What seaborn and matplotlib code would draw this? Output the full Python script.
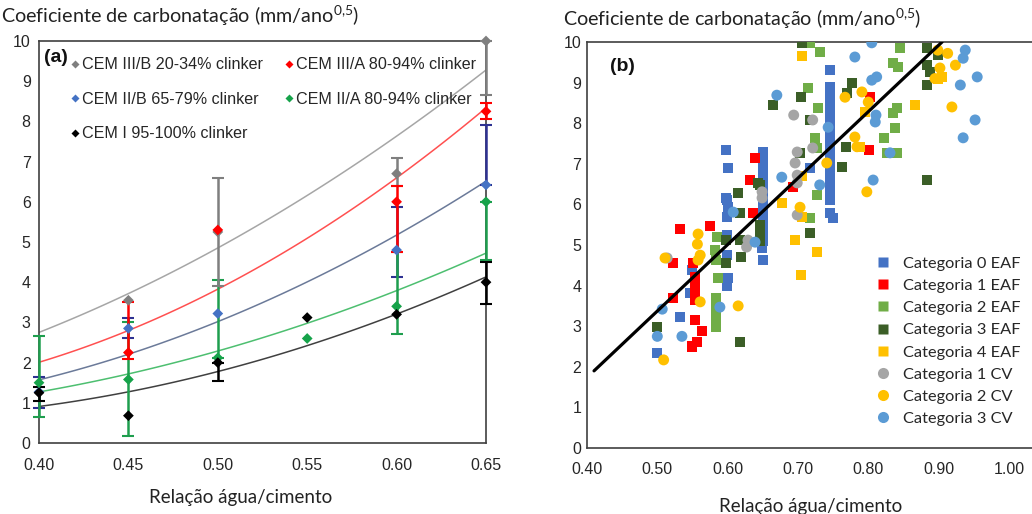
import numpy as np
import pandas as pd
import matplotlib
matplotlib.use("Agg")
import matplotlib.pyplot as plt
from matplotlib.lines import Line2D
from matplotlib.ticker import MultipleLocator
import seaborn as sns

# ---------------- Panel (a) data ----------------
xa_grid = [0.40, 0.45, 0.50, 0.55, 0.60, 0.65]

# CEM III/B (grey)
g_x = [0.45, 0.50, 0.60, 0.65]
g_y = [3.55, 5.25, 6.70, 10.0]
g_lo = [np.nan, 3.90, 6.40, 8.65]
g_hi = [np.nan, 6.60, 7.10, 10.0]
g_trend = [2.75, 3.72, 4.85, 6.16, 7.63, 9.28]

# CEM III/A (red)
r_x = [0.45, 0.50, 0.60, 0.65]
r_y = [2.25, 5.30, 6.00, 8.25]
r_lo = [2.10, np.nan, 4.75, 8.05]
r_hi = [3.50, np.nan, 6.40, 8.45]
r_trend = [2.00, 2.80, 3.85, 5.10, 6.55, 8.36]

# CEM II/B (blue)
b_x = [0.40, 0.45, 0.50, 0.60, 0.65]
b_y = [1.27, 2.85, 3.22, 4.80, 6.42]
b_lo = [0.88, 2.60, np.nan, 4.13, 6.42]
b_hi = [1.65, 3.10, np.nan, 5.87, 7.90]
b_trend = [1.57, 2.22, 3.00, 4.00, 5.20, 6.50]

# CEM II/A (green)
gr_x = [0.40, 0.45, 0.50, 0.55, 0.60, 0.65]
gr_y = [1.50, 1.58, 2.12, 2.60, 3.40, 6.00]
gr_lo = [0.65, 0.18, 2.12, np.nan, 2.72, 4.55]
gr_hi = [2.65, 3.00, 4.05, np.nan, 4.75, 6.00]
gr_trend = [1.27, 1.72, 2.29, 2.97, 3.80, 4.72]

# CEM I (black)
k_x = [0.40, 0.45, 0.50, 0.55, 0.60, 0.65]
k_y = [1.25, 0.68, 2.00, 3.12, 3.20, 4.00]
k_lo = [1.05, np.nan, 1.53, np.nan, np.nan, 3.45]
k_hi = [1.40, np.nan, 2.00, np.nan, np.nan, 4.50]
k_trend = [0.90, 1.28, 1.80, 2.40, 3.20, 4.14]

labels_a = ["CEM III/B 20-34% clinker", "CEM II/B 65-79% clinker",
            "CEM I 95-100% clinker", "CEM III/A 80-94% clinker",
            "CEM II/A 80-94% clinker"]

# ---------------- Panel (b) data ----------------
c0_x = [0.50, 0.532, 0.549, 0.547, 0.598, 0.60, 0.598, 0.599, 0.60, 0.599, 0.599, 0.599, 0.60, 0.599,
        0.65, 0.65, 0.65, 0.65, 0.65, 0.65, 0.65, 0.65, 0.65, 0.65, 0.65, 0.65, 0.649, 0.65, 0.717,
        0.746, 0.746, 0.746, 0.746, 0.746, 0.746, 0.746, 0.746, 0.746, 0.746, 0.746, 0.746, 0.746,
        0.746, 0.746, 0.746, 0.746, 0.75]
c0_y = [2.33, 3.23, 4.38, 3.82, 7.34, 6.90, 6.16, 6.10, 5.93, 5.70, 5.25, 4.75, 4.19, 4.00,
        7.30, 7.10, 6.90, 6.70, 6.50, 6.30, 6.10, 5.90, 5.70, 5.50, 5.30, 5.10, 4.93, 4.63, 6.90,
        9.30, 8.90, 8.70, 8.50, 8.30, 8.10, 7.90, 7.70, 7.50, 7.30, 7.10, 6.90, 6.70,
        6.50, 6.30, 6.10, 5.78, 5.67]

c1_x = [0.532, 0.575, 0.522, 0.551, 0.553, 0.553, 0.553, 0.553, 0.522, 0.553, 0.563, 0.556, 0.55,
        0.639, 0.632, 0.693, 0.636, 0.802, 0.801]
c1_y = [5.39, 5.47, 4.55, 4.55, 4.20, 4.00, 3.80, 3.65, 3.70, 3.15, 2.88, 2.60, 2.50,
        7.15, 6.60, 6.43, 5.78, 8.64, 7.34]

c2_x = [0.717, 0.731, 0.715, 0.729, 0.724, 0.727, 0.727, 0.845, 0.835, 0.842, 0.841, 0.835, 0.838,
        0.822, 0.826, 0.841, 0.585, 0.582, 0.584, 0.586, 0.584, 0.584, 0.584, 0.584, 0.584, 0.717]
c2_y = [9.98, 9.76, 8.87, 8.37, 7.64, 7.40, 6.23, 9.85, 9.48, 9.38, 8.37, 8.25, 7.88,
        7.64, 7.27, 7.27, 5.20, 4.87, 4.63, 4.19, 3.70, 3.50, 3.35, 3.15, 2.98, 5.67]

c3_x = [0.706, 0.705, 0.664, 0.717, 0.770, 0.777, 0.703, 0.763, 0.768, 0.643, 0.884, 0.884, 0.888,
        0.884, 0.899, 0.884, 0.615, 0.618, 0.617, 0.619, 0.598, 0.598, 0.646, 0.646, 0.646, 0.646,
        0.717, 0.50, 0.618]
c3_y = [9.98, 8.64, 8.45, 8.08, 8.74, 9.00, 7.27, 6.93, 7.42, 6.53, 9.85, 9.43, 9.26,
        8.94, 9.68, 6.60, 6.28, 5.78, 5.12, 4.70, 5.12, 4.55, 6.48, 5.50, 5.30, 5.10,
        5.29, 2.98, 2.60]

c4_x = [0.706, 0.677, 0.706, 0.867, 0.795, 0.788, 0.899, 0.905, 0.696, 0.704, 0.727, 0.706]
c4_y = [9.65, 6.04, 6.70, 8.45, 8.27, 7.42, 9.10, 9.14, 5.12, 4.27, 4.83, 5.70]

cv1_x = [0.694, 0.721, 0.699, 0.721, 0.696, 0.699, 0.699, 0.649, 0.649, 0.629, 0.627, 0.514, 0.699]
cv1_y = [8.20, 8.08, 7.29, 7.39, 7.02, 6.72, 6.53, 6.31, 6.16, 5.12, 4.95, 4.68, 5.74]

cv2_x = [0.767, 0.741, 0.703, 0.791, 0.80, 0.781, 0.784, 0.899, 0.913, 0.924, 0.902, 0.895, 0.919,
         0.798, 0.558, 0.557, 0.561, 0.558, 0.511, 0.561, 0.615, 0.509]
cv2_y = [8.64, 7.02, 5.93, 8.77, 8.52, 7.66, 7.42, 9.80, 9.72, 9.43, 9.36, 9.10, 8.40,
         6.31, 5.27, 5.02, 4.75, 4.63, 4.68, 3.60, 3.50, 2.17]

cv3_x = [0.670, 0.743, 0.677, 0.731, 0.805, 0.781, 0.805, 0.812, 0.811, 0.81, 0.831, 0.807, 0.938,
         0.935, 0.931, 0.955, 0.952, 0.935, 0.639, 0.608, 0.589, 0.507, 0.50, 0.535]
cv3_y = [8.69, 7.90, 6.67, 6.48, 9.98, 9.63, 9.06, 9.14, 8.20, 8.03, 7.27, 6.60, 9.80,
         9.60, 8.94, 9.14, 8.08, 7.64, 5.07, 5.81, 3.47, 3.42, 2.75, 2.75]

reg_x = [0.41, 0.905]
reg_y = [1.90, 10.0]

labels_b = ["Categoria 0 EAF", "Categoria 1 EAF", "Categoria 2 EAF", "Categoria 3 EAF",
            "Categoria 4 EAF", "Categoria 1 CV", "Categoria 2 CV", "Categoria 3 CV"]

# ---------------- Styling ----------------
sns.set_style("white")
plt.rcParams['font.family'] = ['Liberation Sans', 'DejaVu Sans']
plt.rcParams['mathtext.fontset'] = 'custom'
plt.rcParams['mathtext.rm'] = 'Lato'
TICKC = '#262626'
LBL_FONT = ['Lato', 'DejaVu Sans']
TITLE = r"Coeficiente de carbonatação (mm/ano$^{\mathrm{0{,}5}}$)"

fig = plt.figure(figsize=(10.32, 5.14), dpi=100)
ax1 = fig.add_axes([39/1032, 1-443/514, 447/1032, 402/514])
ax2 = fig.add_axes([587/1032, 1-448/514, 457/1032, 406/514])

# ---- Panel (a) ----
series = [
    (b_x, b_y, b_lo, b_hi, b_trend, '#4472C4', '#2E3192', '#6B7A99'),
    (gr_x, gr_y, gr_lo, gr_hi, gr_trend, '#16A34A', '#1E9E4E', '#4DBF70'),
    (g_x, g_y, g_lo, g_hi, g_trend, '#7F7F7F', '#7F7F7F', '#A6A6A6'),
    (r_x, r_y, r_lo, r_hi, r_trend, '#FF0000', '#FF0000', '#FF5050'),
    (k_x, k_y, k_lo, k_hi, k_trend, '#000000', '#000000', '#404040'),
]
for xs, ys, lo, hi, tr, mc, ec, tc in series:
    sns.regplot(x=xa_grid, y=tr, order=2, ci=None, scatter=False, truncate=True,
                line_kws=dict(color=tc, lw=1.1), ax=ax1)
for xs, ys, lo, hi, tr, mc, ec, tc in series:
    xs = np.array(xs); ys = np.array(ys); lo = np.array(lo); hi = np.array(hi)
    m = ~np.isnan(lo)
    yerr = np.vstack([ys[m] - lo[m], hi[m] - ys[m]])
    cont = ax1.errorbar(xs[m], ys[m], yerr=yerr, fmt='none', ecolor=ec, elinewidth=1.8,
                        capsize=4, capthick=1.5, zorder=3)
    for art in cont.get_children():
        art.set_clip_on(False)
    sns.scatterplot(x=xs, y=ys, marker='D', s=30, color=mc, edgecolor='none',
                    ax=ax1, zorder=4, legend=False, clip_on=False)

ax1.set_xlim(0.40, 0.65)
ax1.set_ylim(0, 10)
ax1.set_xticks(xa_grid)
ax1.set_xticklabels([f"{v:.2f}" for v in xa_grid])
ax1.xaxis.set_minor_locator(MultipleLocator(0.01))
ax1.set_yticks(range(0, 11))
ax1.tick_params(axis='both', which='major', direction='in', length=5, width=1,
                labelsize=11.5, colors='#333333', labelcolor=TICKC)
ax1.tick_params(axis='x', which='major', pad=11)
ax1.tick_params(axis='y', which='major', pad=6)
ax1.tick_params(axis='x', which='minor', direction='in', length=4, width=1, colors='#333333')
for sp in ax1.spines.values():
    sp.set_color('#404040'); sp.set_linewidth(1.2)

h_a = [Line2D([], [], marker='D', ls='none', ms=4.5, color=c, mec='none')
       for c in ['#7F7F7F', '#4472C4', '#000000', '#FF0000', '#16A34A']]
ax1.legend(h_a, labels_a, ncol=2, frameon=False, fontsize=11.6, handlelength=0.6,
           handletextpad=0.12, columnspacing=1.35, labelspacing=1.2, borderaxespad=0,
           loc='upper left', bbox_to_anchor=(0.055, 0.975))
ax1.text(0.012, 0.958, "(a)", transform=ax1.transAxes, fontsize=14, fontweight='bold',
         ha='left', va='center', color='#111111')
ax1.set_xlabel("Relação água/cimento", fontsize=13.5, family=LBL_FONT, color='#222222', labelpad=11)
ax1.xaxis.label.set_x(0.45)
fig.text(1/1032, 1-16/514, TITLE,
         fontsize=14.2, family=LBL_FONT, color='#222222', ha='left', va='center')

# ---- Panel (b) ----
cats = [
    (c0_x, c0_y, '#4472C4', 's', 52),
    (c1_x, c1_y, '#FF0000', 's', 52),
    (c2_x, c2_y, '#70AD47', 's', 52),
    (c3_x, c3_y, '#3B5E27', 's', 52),
    (c4_x, c4_y, '#FFC000', 's', 52),
    (cv1_x, cv1_y, '#A5A5A5', 'o', 62),
    (cv2_x, cv2_y, '#FFC000', 'o', 62),
    (cv3_x, cv3_y, '#5B9BD5', 'o', 62),
]
for (xs, ys, c, mk, s), lab in zip(cats, labels_b):
    sns.scatterplot(x=xs, y=ys, marker=mk, s=s, color=c, edgecolor='none', ax=ax2,
                    zorder=3, label=lab)
sns.lineplot(x=reg_x, y=reg_y, color='black', lw=2.3, ax=ax2, zorder=4, legend=False)

ax2.set_xlim(0.40, 1.05)
ax2.set_ylim(0, 10)
xt_b = [0.40, 0.50, 0.60, 0.70, 0.80, 0.90, 1.00]
ax2.set_xticks(xt_b)
ax2.set_xticklabels([f"{v:.2f}" for v in xt_b])
ax2.xaxis.set_minor_locator(MultipleLocator(0.05))
ax2.set_yticks(range(0, 11))
ax2.yaxis.set_minor_locator(MultipleLocator(0.5))
ax2.tick_params(axis='both', which='major', direction='in', length=5, width=1,
                labelsize=11.5, colors='#333333', labelcolor=TICKC)
ax2.tick_params(axis='both', which='minor', direction='in', length=5, width=1, colors='#333333')
ax2.tick_params(axis='x', which='major', pad=10)
ax2.tick_params(axis='y', which='major', pad=4)
for sp in ax2.spines.values():
    sp.set_color('#404040'); sp.set_linewidth(1.2)

h_b = [Line2D([], [], marker=mk, ls='none', ms=7.5 if mk == 's' else 8, color=c, mec='none')
       for (_, _, c, mk, _) in cats]
ax2.legend(h_b, labels_b, frameon=False, handlelength=0.8,
           handletextpad=0.8, labelspacing=0.47, borderaxespad=0, borderpad=0,
           loc='upper left', bbox_to_anchor=(0.634, 0.472), prop={'family': LBL_FONT, 'size': 11.8})
ax2.text(0.05, 0.94, "(b)", transform=ax2.transAxes, fontsize=14, fontweight='bold',
         ha='left', va='center', color='#111111')
ax2.set_xlabel("Relação água/cimento", fontsize=13.5, family=LBL_FONT, color='#222222', labelpad=15)
ax2.xaxis.label.set_x(0.49)
ax2.set_ylabel("")
ax1.set_ylabel("")
fig.text(563/1032, 1-19/514, TITLE,
         fontsize=14.2, family=LBL_FONT, color='#222222', ha='left', va='center')

fig.savefig("out.png", dpi=100)
